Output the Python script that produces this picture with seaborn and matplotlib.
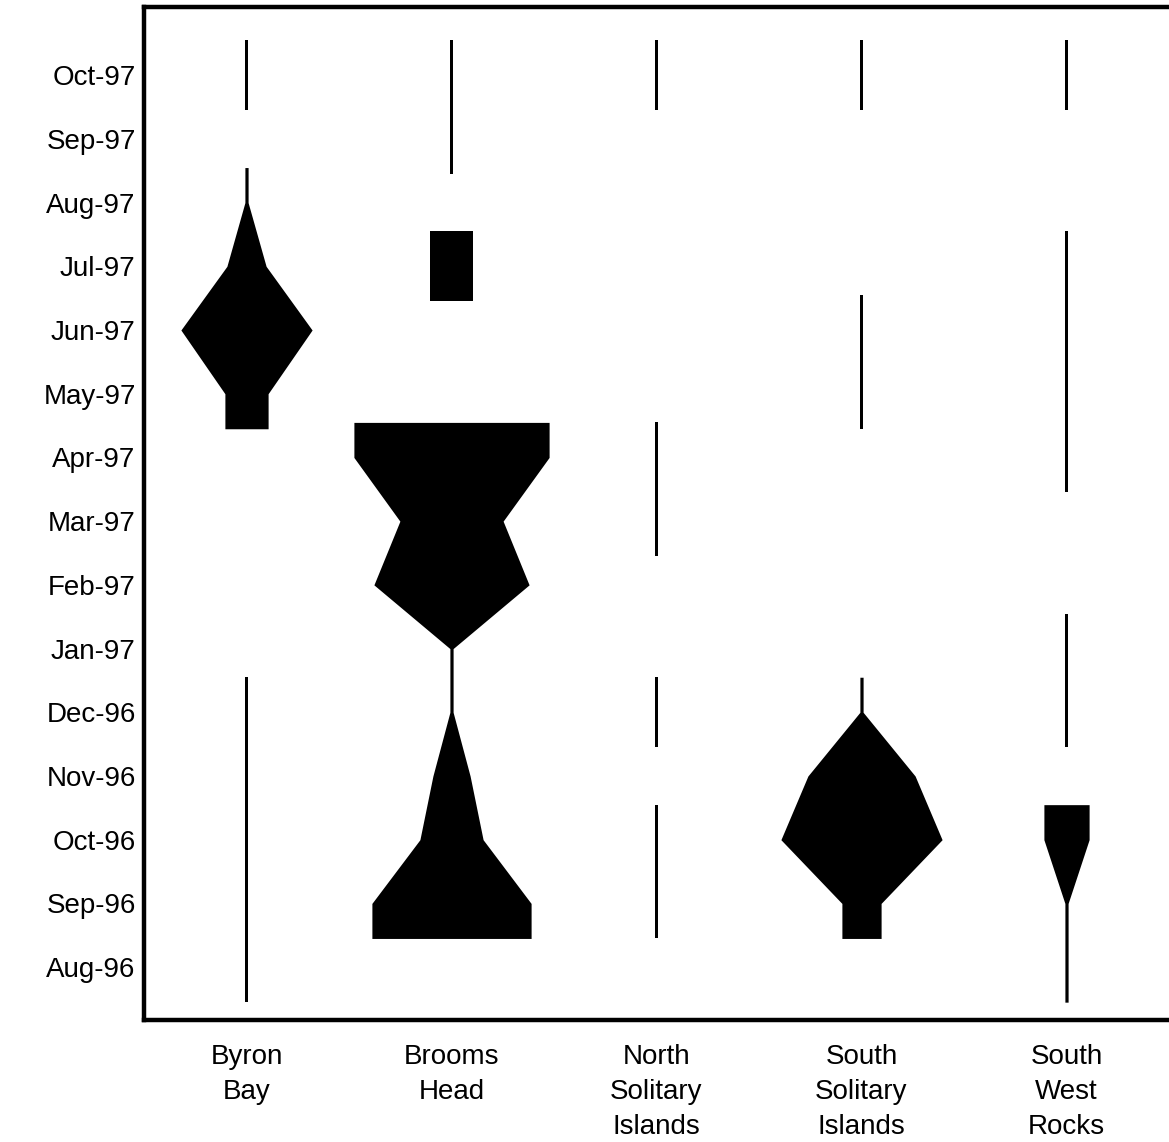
import numpy as np
import matplotlib
matplotlib.use("Agg")
import matplotlib.pyplot as plt
import seaborn as sns

# Sampling months (bottom to top) and sites along the coast
months = ["Aug-96", "Sep-96", "Oct-96", "Nov-96", "Dec-96", "Jan-97", "Feb-97",
          "Mar-97", "Apr-97", "May-97", "Jun-97", "Jul-97", "Aug-97", "Sep-97", "Oct-97"]
sites = ["Byron\nBay", "Brooms\nHead", "North\nSolitary\nIslands",
         "South\nSolitary\nIslands", "South\nWest\nRocks"]

nan = np.nan
# Abundance per month at each site (nan = not sampled, 0 = sampled, none found)
byron_bay        = [0, 0, 0, 0, 0, nan, nan, nan, nan, 10, 32, 9, 0, nan, 0]
brooms_head      = [nan, 39, 15, 8.5, 0, 0, 38, 25, 48, nan, nan, 10, nan, 0, 0]
north_solitary   = [nan, 0, 0, nan, 0, nan, nan, 0, 0, nan, nan, nan, nan, nan, 0]
south_solitary   = [nan, 9, 39.5, 26, 0, nan, nan, nan, nan, 0, 0, nan, nan, nan, 0]
south_west_rocks = [0, 0, 10.5, nan, 0, 0, nan, nan, 0, 0, 0, 0, nan, nan, 0]

series = [byron_bay, brooms_head, north_solitary, south_solitary, south_west_rocks]

sns.set_theme(style="white")
plt.rcParams["font.family"] = ["Liberation Sans", "DejaVu Sans"]

fig = plt.figure(figsize=(11.69, 11.42), dpi=100)
ax = fig.add_axes([144 / 1169, 1 - 1020 / 1142, 1 - 144 / 1169, (1020 - 7) / 1142])

SCALE = 2.0 / 205.0      # half-width (site units) per unit of abundance
MIN_HALF = 1.6 / 205.0   # keeps zero-abundance runs visible as a thin line
PAD = 0.55               # each run extends a little past its first and last sample


def kite_runs(values):
    """Split a monthly series into contiguous sampled runs of (y, half_width)."""
    runs, cur = [], []
    for m, v in enumerate(values):
        if np.isnan(v):
            if cur:
                runs.append(cur)
                cur = []
        else:
            cur.append((m, v))
    if cur:
        runs.append(cur)
    out = []
    for run in runs:
        ys = [run[0][0] - PAD] + [m for m, _ in run] + [run[-1][0] + PAD]
        vs = [run[0][1]] + [v for _, v in run] + [run[-1][1]]
        hw = np.array(vs) * SCALE + MIN_HALF
        out.append((np.array(ys, float), hw))
    return out


for i, vals in enumerate(series):
    for ys, hw in kite_runs(vals):
        ax.fill_betweenx(ys, i - hw, i + hw, color="black", linewidth=0)

ax.set_xlim(-0.5, 4.5)
ax.set_ylim(-0.83, 15.07)
ax.set_yticks(range(len(months)))
ax.set_yticklabels(months, fontsize=20)
ax.set_xticks(range(len(sites)))
ax.set_xticklabels(sites, fontsize=20, linespacing=1.45)
ax.tick_params(axis="both", length=0, colors="black")
ax.tick_params(axis="y", pad=6)
ax.tick_params(axis="x", pad=17)

for side in ["left", "top", "bottom"]:
    ax.spines[side].set_visible(True)
    ax.spines[side].set_color("black")
    ax.spines[side].set_linewidth(3.2)
ax.spines["right"].set_visible(False)
ax.grid(False)
ax.set_facecolor("white")

fig.savefig("out.png", dpi=100, facecolor="white")
